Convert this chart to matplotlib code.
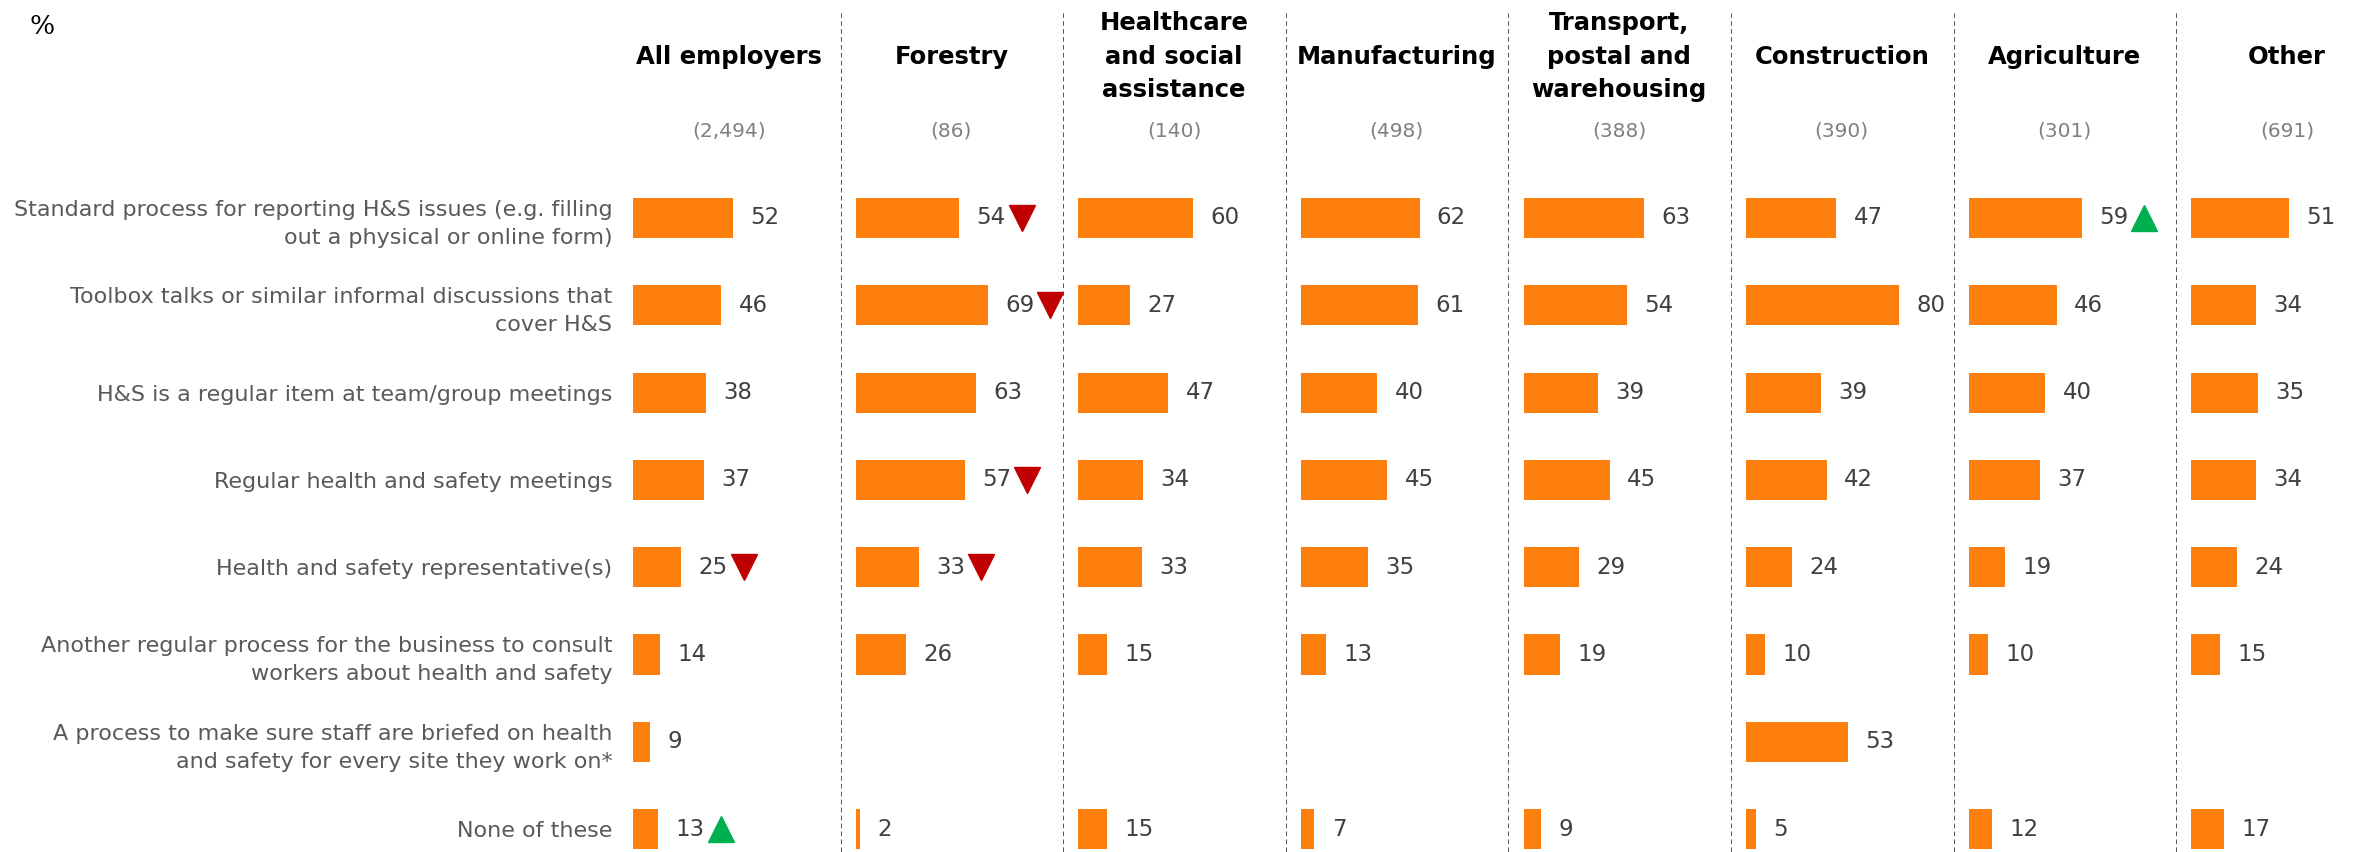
import numpy as np
import matplotlib.pyplot as plt
from matplotlib.transforms import offset_copy

# ---- data ----
categories = [
    "Standard process for reporting H&S issues (e.g. filling\nout a physical or online form)",
    "Toolbox talks or similar informal discussions that\ncover H&S",
    "H&S is a regular item at team/group meetings",
    "Regular health and safety meetings",
    "Health and safety representative(s)",
    "Another regular process for the business to consult\nworkers about health and safety",
    "A process to make sure staff are briefed on health\nand safety for every site they work on*",
    "None of these",
]
groups = ["All employers", "Forestry", "Healthcare\nand social\nassistance", "Manufacturing",
          "Transport,\npostal and\nwarehousing", "Construction", "Agriculture", "Other"]
bases = ["(2,494)", "(86)", "(140)", "(498)", "(388)", "(390)", "(301)", "(691)"]

nan = np.nan
all_employers = [52, 46, 38, 37, 25, 14, 9, 13]
forestry = [54, 69, 63, 57, 33, 26, nan, 2]
healthcare = [60, 27, 47, 34, 33, 15, nan, 15]
manufacturing = [62, 61, 40, 45, 35, 13, nan, 7]
transport = [63, 54, 39, 45, 29, 19, nan, 9]
construction = [47, 80, 39, 42, 24, 10, 53, 5]
agriculture = [59, 46, 40, 37, 19, 10, nan, 12]
other = [51, 34, 35, 34, 24, 15, nan, 17]
values = [all_employers, forestry, healthcare, manufacturing, transport, construction, agriculture, other]

# significance markers: (group index, row index)
sig_down = [(0, 4), (1, 0), (1, 1), (1, 3), (1, 4)]
sig_up = [(0, 7), (6, 0)]

# ---- layout ----
W, H = 2359, 852
fig = plt.figure(figsize=(W / 100, H / 100), dpi=100)

orange = "#FF7F0E"
txt_grey = "#595959"
num_grey = "#404040"

panel_px = 222.6
left0 = 618
top_px = 12
row0_px, row_step = 218, 87.3
ylim_top = -(row0_px - top_px) / row_step
ylim_bot = 7 + (H - (row0_px + 7 * row_step)) / row_step
title_y = (57 - row0_px) / row_step
base_y = (131 - row0_px) / row_step

y = np.arange(len(categories))
axes = []
for i in range(len(groups)):
    l = left0 + i * panel_px
    w = min(panel_px, W - l)
    ax = fig.add_axes([l / W, 0, w / W, (H - top_px) / H])
    ax.set_xlim(-8, -8 + w / 1.91)
    ax.set_ylim(ylim_bot, ylim_top)
    for s in ax.spines.values():
        s.set_visible(False)
    ax.tick_params(length=0)
    ax.set_xticks([])
    ax.set_yticks([])
    axes.append(ax)

    vals = np.array(values[i], dtype=float)
    ax.barh(y, np.nan_to_num(vals), height=0.46, color=orange, left=0)
    num_tr = offset_copy(ax.transData, fig=fig, x=12.5, y=0, units="points")
    for r, v in enumerate(vals):
        if np.isnan(v):
            continue
        ax.text(v, r, f"{v:.0f}", transform=num_tr, ha="left", va="center",
                fontsize=16.5, color=num_grey)

    ax.text(50, title_y, groups[i], ha="center", va="center", fontsize=17.5,
            fontweight="bold", color="black", linespacing=1.5)
    ax.text(50, base_y, bases[i], ha="center", va="center", fontsize=14.5, color="#808080")

    if i > 0:
        ax.axvline(-8, color="#262626", lw=1.1, linestyle=(0, (3, 2.2)))

tri_tr = [offset_copy(a.transData, fig=fig, x=45, y=0, units="points") for a in axes]
for g, r in sig_down:
    axes[g].plot(values[g][r], r, marker="v", ms=19, color="#C00000", transform=tri_tr[g],
                 clip_on=False)
for g, r in sig_up:
    axes[g].plot(values[g][r], r, marker="^", ms=19, color="#00B050", transform=tri_tr[g],
                 clip_on=False)

axes[0].set_yticks(y)
axes[0].set_yticklabels(categories, fontsize=16, color=txt_grey, linespacing=1.5)
axes[0].tick_params(axis="y", length=0, pad=4)

fig.text(42 / W, 1 - 27 / H, "%", family="DejaVu Serif", fontsize=19, ha="center", va="center")

fig.savefig("out.png", dpi=100)
